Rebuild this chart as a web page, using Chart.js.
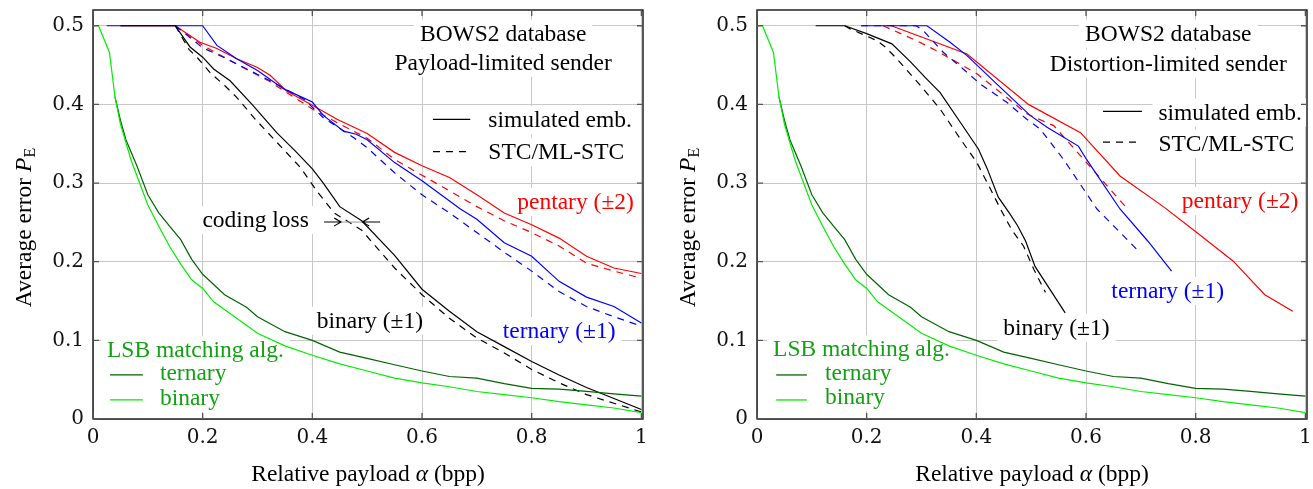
<!DOCTYPE html>
<html>
<head>
<meta charset="utf-8">
<script src="https://cdn.jsdelivr.net/npm/chart.js@4.4.0/dist/chart.umd.min.js"></script>
<style>
  html, body { margin: 0; padding: 0; background: #fff; }
  #wrap { position: relative; width: 1313px; height: 489px; overflow: hidden; }
  canvas { position: absolute; top: 0; }
</style>
</head>
<body>
<div id="wrap">
  <canvas id="payload" width="656" height="489" style="left:0px"></canvas>
  <canvas id="distortion" width="650" height="489" style="left:664px"></canvas>
</div>
<script>
// ---- data: [relative payload alpha, average error P_E] ----
var lsbTernary = [[0.04,0.41],[0.05,0.38],[0.06,0.355],[0.08,0.322],[0.1,0.285],[0.12,0.262],[0.14,0.245],[0.16,0.228],[0.18,0.203],[0.2,0.184],[0.24,0.158],[0.28,0.142],[0.3,0.13],[0.35,0.111],[0.4,0.1],[0.45,0.085],[0.5,0.077],[0.55,0.069],[0.6,0.061],[0.65,0.054],[0.7,0.052],[0.75,0.045],[0.8,0.039],[0.85,0.038],[0.9,0.035],[0.95,0.032],[1.0,0.029]];
var lsbBinary = [[0.01,0.5],[0.03,0.466],[0.04,0.41],[0.05,0.375],[0.07,0.328],[0.1,0.272],[0.12,0.245],[0.14,0.219],[0.16,0.197],[0.18,0.177],[0.2,0.166],[0.22,0.149],[0.26,0.129],[0.3,0.109],[0.35,0.093],[0.4,0.081],[0.45,0.07],[0.5,0.061],[0.55,0.052],[0.6,0.046],[0.65,0.041],[0.7,0.035],[0.75,0.031],[0.8,0.027],[0.85,0.022],[0.9,0.018],[0.95,0.014],[1.0,0.008]];

// payload-limited sender
var plBinarySim = [[0.05,0.5],[0.15,0.5],[0.177,0.473],[0.2,0.46],[0.22,0.445],[0.25,0.43],[0.29,0.4],[0.335,0.364],[0.37,0.34],[0.4,0.318],[0.42,0.3],[0.45,0.27],[0.49,0.252],[0.55,0.208],[0.6,0.165],[0.65,0.137],[0.7,0.111],[0.75,0.092],[0.8,0.073],[0.85,0.056],[0.9,0.04],[0.95,0.026],[1.0,0.012]];
var plBinarySTC = [[0.15,0.5],[0.175,0.47],[0.192,0.458],[0.214,0.44],[0.24,0.424],[0.262,0.409],[0.296,0.381],[0.335,0.352],[0.378,0.32],[0.41,0.288],[0.44,0.262],[0.49,0.24],[0.55,0.192],[0.6,0.158],[0.65,0.128],[0.7,0.103],[0.75,0.084],[0.8,0.063],[0.85,0.046],[0.9,0.031],[0.95,0.02],[1.0,0.009]];
var plTernarySim = [[0.025,0.5],[0.2,0.5],[0.226,0.475],[0.262,0.458],[0.3,0.443],[0.347,0.42],[0.4,0.403],[0.42,0.386],[0.457,0.366],[0.48,0.362],[0.5,0.355],[0.55,0.326],[0.6,0.303],[0.67,0.267],[0.7,0.254],[0.75,0.224],[0.8,0.207],[0.85,0.175],[0.9,0.155],[0.95,0.143],[1.0,0.122]];
var plTernarySTC = [[0.15,0.5],[0.2,0.472],[0.238,0.46],[0.28,0.445],[0.323,0.43],[0.384,0.407],[0.42,0.383],[0.475,0.358],[0.5,0.345],[0.55,0.313],[0.6,0.285],[0.65,0.262],[0.7,0.237],[0.75,0.212],[0.8,0.188],[0.85,0.162],[0.9,0.143],[0.95,0.13],[1.0,0.118]];
var plPentarySim = [[0.05,0.5],[0.15,0.5],[0.195,0.479],[0.226,0.471],[0.262,0.458],[0.3,0.447],[0.323,0.437],[0.353,0.417],[0.4,0.399],[0.445,0.381],[0.5,0.363],[0.55,0.339],[0.6,0.322],[0.65,0.307],[0.7,0.285],[0.75,0.262],[0.8,0.247],[0.85,0.23],[0.9,0.207],[0.95,0.192],[1.0,0.185]];
var plPentarySTC = [[0.15,0.5],[0.2,0.475],[0.26,0.452],[0.32,0.43],[0.4,0.394],[0.45,0.375],[0.5,0.357],[0.55,0.33],[0.6,0.31],[0.65,0.29],[0.7,0.27],[0.75,0.252],[0.8,0.237],[0.85,0.22],[0.9,0.198],[0.95,0.188],[1.0,0.179]];

// distortion-limited sender
var dlBinarySim = [[0.107,0.5],[0.16,0.5],[0.2,0.49],[0.246,0.477],[0.28,0.454],[0.307,0.434],[0.334,0.415],[0.371,0.377],[0.404,0.343],[0.42,0.318],[0.44,0.282],[0.46,0.262],[0.475,0.246],[0.49,0.226],[0.507,0.194],[0.562,0.135]];
var dlBinarySTC = [[0.16,0.5],[0.17,0.496],[0.219,0.481],[0.234,0.473],[0.255,0.458],[0.298,0.424],[0.334,0.394],[0.371,0.356],[0.401,0.326],[0.426,0.292],[0.444,0.267],[0.465,0.24],[0.486,0.22],[0.505,0.19],[0.526,0.161]];
var dlTernarySim = [[0.19,0.5],[0.31,0.5],[0.352,0.479],[0.383,0.462],[0.437,0.426],[0.498,0.386],[0.529,0.371],[0.586,0.347],[0.601,0.33],[0.662,0.267],[0.713,0.226],[0.756,0.188]];
var dlTernarySTC = [[0.19,0.5],[0.29,0.5],[0.303,0.494],[0.34,0.466],[0.376,0.445],[0.407,0.426],[0.455,0.403],[0.492,0.381],[0.516,0.369],[0.559,0.33],[0.62,0.267],[0.692,0.216]];
var dlPentarySim = [[0.245,0.5],[0.383,0.464],[0.495,0.4],[0.59,0.364],[0.662,0.309],[0.741,0.27],[0.802,0.237],[0.868,0.201],[0.926,0.158],[0.977,0.137]];
var dlPentarySTC = [[0.23,0.5],[0.291,0.481],[0.328,0.468],[0.401,0.439],[0.455,0.409],[0.492,0.388],[0.541,0.373],[0.601,0.326],[0.672,0.27]];

var xTicks = [0, 0.2, 0.4, 0.6, 0.8, 1];
var yTicks = [0, 0.1, 0.2, 0.3, 0.4, 0.5];

var SERIF = "'Liberation Serif', 'Times New Roman', serif";
var TXT = "23.5px " + SERIF;
var RED = "#ff0000", BLUE = "#0000ff", BLACK = "#000000";
var DKGREEN = "#006400", LTGREEN = "#00ee00", TXTGREEN = "#14a014";

function pts(arr) {
  return arr.map(function (p) { return { x: p[0], y: p[1] }; });
}

function line(arr, color, dashed) {
  return {
    data: pts(arr),
    borderColor: color,
    borderWidth: 1.2,
    borderDash: dashed ? [7, 6] : [],
    pointRadius: 0,
    showLine: true,
    fill: false,
    tension: 0
  };
}

function drawRich(ctx, parts, x, y) {
  // parts: [text, font, dy]
  var total = 0;
  parts.forEach(function (p) { ctx.font = p[1]; total += ctx.measureText(p[0]).width; });
  var cx = x - total / 2;
  parts.forEach(function (p) {
    ctx.font = p[1];
    ctx.fillText(p[0], cx, y + (p[2] || 0));
    cx += ctx.measureText(p[0]).width;
  });
}

var decor = {
  id: "decor",
  beforeDatasetsDraw: function (chart, args, o) {
    var ctx = chart.ctx, a = chart.chartArea, xs = chart.scales.x, ys = chart.scales.y;
    ctx.save();
    ctx.font = TXT;
    ctx.fillStyle = "#fff";
    o.notes.forEach(function (n) {
      var w = ctx.measureText(n.t).width;
      var px = xs.getPixelForValue(n.x), py = ys.getPixelForValue(n.y);
      var left = n.a === "left" ? px : px - w / 2;
      ctx.fillRect(left - 6, py - 21, w + 12, 28);
    });
    // frame
    ctx.strokeStyle = "#000";
    ctx.lineWidth = 1.3;
    ctx.strokeRect(a.left, a.top, a.right - a.left, a.bottom - a.top);
    // inward tick marks on all four sides
    ctx.strokeStyle = "#555";
    ctx.beginPath();
    xTicks.forEach(function (v) {
      var px = xs.getPixelForValue(v);
      ctx.moveTo(px, a.bottom); ctx.lineTo(px, a.bottom - 6);
      ctx.moveTo(px, a.top); ctx.lineTo(px, a.top + 6);
    });
    yTicks.forEach(function (v) {
      var py = ys.getPixelForValue(v);
      ctx.moveTo(a.left, py); ctx.lineTo(a.left + 6, py);
      ctx.moveTo(a.right, py); ctx.lineTo(a.right - 6, py);
    });
    ctx.stroke();
    ctx.restore();
  },
  afterDatasetsDraw: function (chart, args, o) {
    var ctx = chart.ctx, xs = chart.scales.x, ys = chart.scales.y;
    ctx.save();
    ctx.font = TXT;
    ctx.textBaseline = "alphabetic";
    o.notes.forEach(function (n) {
      ctx.fillStyle = n.c || BLACK;
      ctx.textAlign = n.a === "left" ? "left" : "center";
      ctx.fillText(n.t, xs.getPixelForValue(n.x), ys.getPixelForValue(n.y));
    });
    // legend samples
    ctx.lineWidth = 1.3;
    o.keys.forEach(function (k) {
      ctx.strokeStyle = k.c;
      ctx.setLineDash(k.dash ? [7, 6] : []);
      ctx.beginPath();
      ctx.moveTo(xs.getPixelForValue(k.x0), ys.getPixelForValue(k.y));
      ctx.lineTo(xs.getPixelForValue(k.x1), ys.getPixelForValue(k.y));
      ctx.stroke();
    });
    ctx.setLineDash([]);
    // "coding loss" arrows
    (o.arrows || []).forEach(function (ar) {
      var x0 = xs.getPixelForValue(ar[0]), x1 = xs.getPixelForValue(ar[1]), y = ys.getPixelForValue(ar[2]);
      var d = x1 > x0 ? 1 : -1;
      ctx.strokeStyle = "#000";
      ctx.lineWidth = 1.1;
      ctx.beginPath();
      ctx.moveTo(x0, y); ctx.lineTo(x1, y);
      ctx.moveTo(x1 - d * 7, y - 4); ctx.quadraticCurveTo(x1 - d * 2, y - 1, x1, y);
      ctx.quadraticCurveTo(x1 - d * 2, y + 1, x1 - d * 7, y + 4);
      ctx.stroke();
    });
    if (o.arrows) {
      var g0 = xs.getPixelForValue(o.arrows[0][1]), g1 = xs.getPixelForValue(o.arrows[1][1]);
      var gy = ys.getPixelForValue(o.arrows[0][2]);
      ctx.strokeStyle = "#999";
      ctx.lineWidth = 1;
      ctx.beginPath(); ctx.moveTo(g0, gy); ctx.lineTo(g1, gy); ctx.stroke();
    }
    ctx.restore();
  },
  afterDraw: function (chart) {
    var ctx = chart.ctx, a = chart.chartArea;
    ctx.save();
    ctx.fillStyle = "#000";
    ctx.textAlign = "left";
    ctx.textBaseline = "alphabetic";
    ctx.translate(31, (a.top + a.bottom) / 2 + 13);
    ctx.rotate(-Math.PI / 2);
    drawRich(ctx, [["Average error ", TXT], ["P", "italic " + TXT], ["E", "16px " + SERIF, 4]], 0, 0);
    ctx.restore();
    ctx.save();
    ctx.fillStyle = "#000";
    ctx.textAlign = "left";
    ctx.textBaseline = "alphabetic";
    drawRich(ctx, [["Relative payload ", TXT], ["\u03B1", "italic " + TXT], [" (bpp)", TXT]], (a.left + a.right) / 2, 481);
    ctx.restore();
  }
};

function makeChart(id, sets, notes, keys, arrows, padRight) {
  new Chart(document.getElementById(id), {
    type: "scatter",
    data: {
      datasets: [
        line(lsbBinary, LTGREEN, false),
        line(lsbTernary, DKGREEN, false),
        line(sets[1], BLACK, true),
        line(sets[0], BLACK, false),
        line(sets[3], BLUE, true),
        line(sets[2], BLUE, false),
        line(sets[5], RED, true),
        line(sets[4], RED, false)
      ]
    },
    options: {
      responsive: false,
      animation: false,
      devicePixelRatio: 1,
      layout: { padding: { left: 0, top: 10, right: padRight, bottom: 0 } },
      plugins: {
        legend: { display: false },
        tooltip: { enabled: false },
        decor: { notes: notes, keys: keys, arrows: arrows }
      },
      scales: {
        x: {
          type: "linear",
          min: 0,
          max: 1.003,
          border: { display: false },
          grid: { color: "#c8c8c8", lineWidth: 1, drawTicks: false },
          ticks: {
            stepSize: 0.2,
            includeBounds: false,
            autoSkip: false,
            maxRotation: 0,
            padding: 7,
            color: "#111",
            font: { family: "'DejaVu Serif', serif", size: 20 },
            callback: function (v) { return v === 0 ? "0" : (Math.abs(v - 1) < 1e-9 ? "1" : v.toFixed(1)); }
          },
          afterFit: function (s) { s.height = 70; s.paddingLeft = 0; s.paddingRight = 0; }
        },
        y: {
          type: "linear",
          min: 0,
          max: 0.52,
          border: { display: false },
          grid: { color: "#c8c8c8", lineWidth: 1, drawTicks: false },
          ticks: {
            stepSize: 0.1,
            includeBounds: false,
            autoSkip: false,
            padding: 9,
            color: "#111",
            font: { family: "'DejaVu Serif', serif", size: 20 },
            callback: function (v) { return v === 0 ? "0" : v.toFixed(1); }
          },
          afterFit: function (s) { s.width = 93; s.paddingTop = 0; s.paddingBottom = 0; }
        }
      }
    },
    plugins: [decor]
  });
}

makeChart("payload",
  [plBinarySim, plBinarySTC, plTernarySim, plTernarySTC, plPentarySim, plPentarySTC],
  [
    { t: "BOWS2 database", x: 0.748, y: 0.481 },
    { t: "Payload-limited sender", x: 0.748, y: 0.444 },
    { t: "simulated emb.", x: 0.721, y: 0.371, a: "left" },
    { t: "STC/ML-STC", x: 0.721, y: 0.330, a: "left" },
    { t: "pentary (\u00B12)", x: 0.88, y: 0.267, c: RED },
    { t: "ternary (\u00B11)", x: 0.85, y: 0.103, c: BLUE },
    { t: "binary (\u00B11)", x: 0.505, y: 0.116 },
    { t: "coding loss", x: 0.2966, y: 0.244 },
    { t: "LSB matching alg.", x: 0.0255, y: 0.0787, c: TXTGREEN, a: "left" },
    { t: "ternary", x: 0.122, y: 0.0497, c: TXTGREEN, a: "left" },
    { t: "binary", x: 0.122, y: 0.0179, c: TXTGREEN, a: "left" }
  ],
  [
    { x0: 0.62, x1: 0.688, y: 0.381, c: BLACK },
    { x0: 0.62, x1: 0.688, y: 0.340, c: BLACK, dash: true },
    { x0: 0.031, x1: 0.091, y: 0.056, c: DKGREEN },
    { x0: 0.031, x1: 0.091, y: 0.0242, c: LTGREEN }
  ],
  [[0.4215, 0.4526, 0.2504], [0.5237, 0.4909, 0.2504]],
  13);

makeChart("distortion",
  [dlBinarySim, dlBinarySTC, dlTernarySim, dlTernarySTC, dlPentarySim, dlPentarySTC],
  [
    { t: "BOWS2 database", x: 0.750, y: 0.481 },
    { t: "Distortion-limited sender", x: 0.750, y: 0.443 },
    { t: "simulated emb.", x: 0.732, y: 0.3805, a: "left" },
    { t: "STC/ML-STC", x: 0.732, y: 0.341, a: "left" },
    { t: "pentary (\u00B12)", x: 0.881, y: 0.268, c: RED },
    { t: "ternary (\u00B11)", x: 0.749, y: 0.154, c: BLUE },
    { t: "binary (\u00B11)", x: 0.546, y: 0.107 },
    { t: "LSB matching alg.", x: 0.0293, y: 0.0795, c: TXTGREEN, a: "left" },
    { t: "ternary", x: 0.124, y: 0.0497, c: TXTGREEN, a: "left" },
    { t: "binary", x: 0.124, y: 0.019, c: TXTGREEN, a: "left" }
  ],
  [
    { x0: 0.631, x1: 0.702, y: 0.391, c: BLACK },
    { x0: 0.631, x1: 0.702, y: 0.352, c: BLACK, dash: true },
    { x0: 0.035, x1: 0.091, y: 0.056, c: DKGREEN },
    { x0: 0.035, x1: 0.091, y: 0.0242, c: LTGREEN }
  ],
  null,
  7);
</script>
</body>
</html>
